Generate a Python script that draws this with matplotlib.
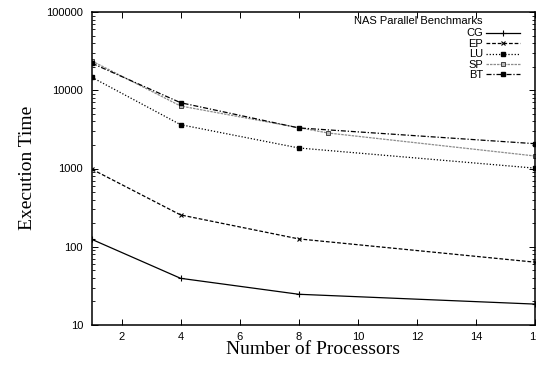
import matplotlib
matplotlib.use("Agg")
import matplotlib.pyplot as plt
from matplotlib.ticker import LogLocator, NullFormatter, FixedLocator

# NAS Parallel Benchmarks: execution time vs number of processors (log y)
cg_procs = [1, 4, 8, 16]
cg_times = [124, 39.5, 24.7, 18.5]

ep_procs = [1, 4, 8, 16]
ep_times = [977, 255, 126, 63.5]

lu_procs = [1, 4, 8, 16]
lu_times = [14600, 3630, 1830, 1010]

sp_procs = [1, 4, 9, 16]
sp_times = [23600, 6290, 2840, 1445]

bt_procs = [1, 4, 8, 16]
bt_times = [22100, 6930, 3300, 2075]

x_ticks = [2, 4, 6, 8, 10, 12, 14, 16]
y_ticks = [10, 100, 1000, 10000, 100000]

W, H = 536, 365
fig = plt.figure(figsize=(W / 100, H / 100), dpi=100)
ax = fig.add_axes([92 / W, 1 - 325 / H, 443 / W, 313 / H])

lw = 0.9
ax.plot(cg_procs, cg_times, color='black', lw=lw, ls='-', marker='+', ms=4,
        mew=0.8, label='CG')
ax.plot(ep_procs, ep_times, color='black', lw=lw, ls=(0, (3, 1.5)), marker='x',
        ms=3, mew=0.8, label='EP')
ax.plot(lu_procs, lu_times, color='black', lw=lw, ls=(0, (1, 1.5)), marker='s',
        ms=2.3, label='LU')
ax.plot(sp_procs, sp_times, color='#8c8c8c', lw=lw, ls=(0, (2, 0.8)), marker='s',
        ms=3.2, mfc='#bbbbbb', mec='#444444', mew=0.7, label='SP')
ax.plot(bt_procs, bt_times, color='black', lw=lw, ls=(0, (4, 1.5, 1, 1.5)), marker='s',
        ms=3.2, label='BT')

ax.set_yscale('log')
ax.set_xlim(1, 16)
ax.set_ylim(10, 100000)
ax.xaxis.set_major_locator(FixedLocator(x_ticks))
ax.yaxis.set_major_locator(FixedLocator(y_ticks))
ax.set_yticklabels([str(v) for v in y_ticks])
ax.yaxis.set_minor_locator(LogLocator(base=10, subs=range(2, 10)))
ax.yaxis.set_minor_formatter(NullFormatter())

for s in ax.spines.values():
    s.set_linewidth(1.1)
ax.tick_params(which='both', direction='in', top=True, right=True,
               labelfontfamily='Liberation Sans', labelsize=8)
ax.tick_params(which='major', length=4.5, width=0.7)
ax.tick_params(which='minor', length=2.5, width=0.6)
ax.tick_params(axis='y', pad=6.5)
ax.tick_params(axis='x', pad=5)

fig.text(28 / W, 1 - 168 / H, 'Execution Time', rotation=90, ha='center', va='center',
         family='Liberation Serif', fontsize=14)
fig.text(313 / W, 1 - 350 / H, 'Number of Processors', ha='center', va='center',
         family='Liberation Serif', fontsize=14)

# legend: title right-aligned with the label column, as gnuplot draws it
fig.text(483 / W, 1 - 21.5 / H, 'NAS Parallel Benchmarks', ha='right', va='center',
         family='Liberation Sans', fontsize=8)
leg = ax.legend(loc='upper right', bbox_to_anchor=(520 / W, 1 - 28.5 / H),
                bbox_transform=fig.transFigure, frameon=False, markerfirst=False,
                prop={'family': 'Liberation Sans', 'size': 8},
                handlelength=3.1, handletextpad=0.2, labelspacing=0.04,
                borderpad=0, borderaxespad=0)
for t in leg.get_texts():
    t.set_ha('right')

fig.savefig('out.png', dpi=100)
